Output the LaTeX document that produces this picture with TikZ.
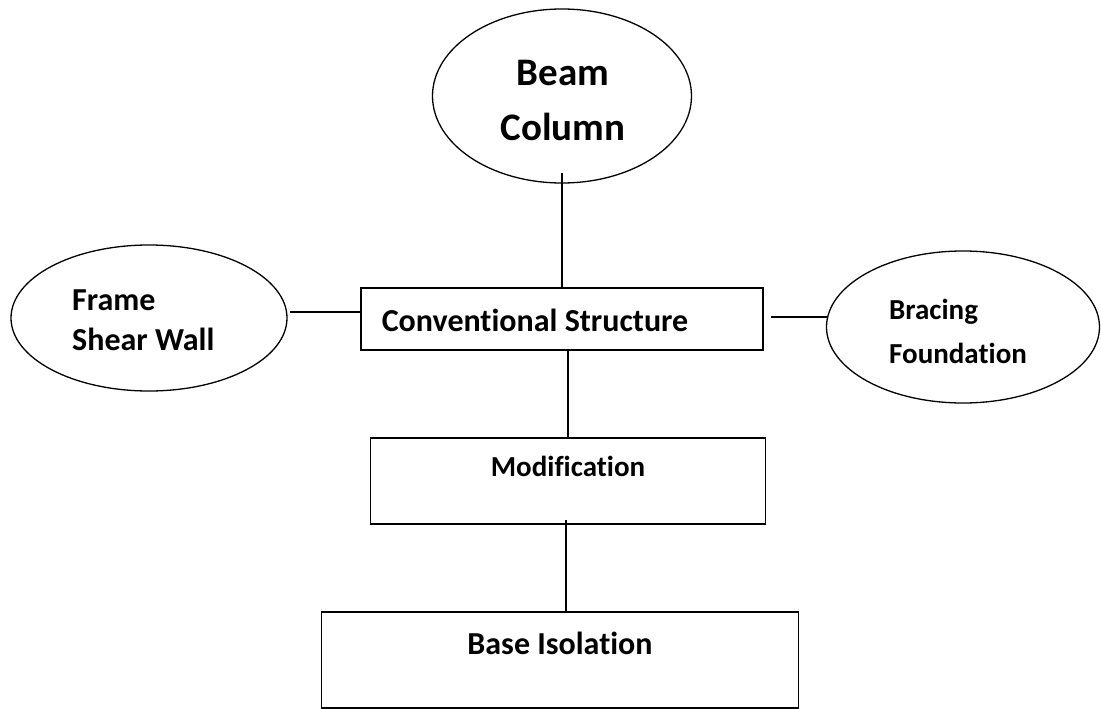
\documentclass[tikz,border=0pt]{standalone}
\usepackage{fontspec}
\setmainfont{Carlito}[Ligatures=NoCommon]
\usetikzlibrary{shapes.geometric}
\tikzstyle{edge}=[line width=1.4pt]
\tikzstyle{bubble}=[ellipse, draw, line width=1.3pt,
                    inner sep=0pt, outer sep=0pt]
\tikzstyle{block}=[rectangle, draw, line width=1.5pt,
                   inner sep=0pt, outer sep=0pt]
\tikzstyle{caption}=[font=\bfseries\fontsize{32}{40}\selectfont,
                     align=left, inner sep=0pt]

\begin{document}
\begin{tikzpicture}[x=1pt,y=-1pt]
    \useasboundingbox (0,0) rectangle (1101,709);
    % shapes
    \node (beam)  at (562,96)  [bubble, minimum width=259pt, minimum height=174pt]{};
    \node (frame) at (149,318) [bubble, minimum width=276pt, minimum height=146pt]{};
    \node (brace) at (963,327) [bubble, minimum width=273pt, minimum height=152pt]{};
    \node (conv)  at (562,319) [block, minimum width=402pt, minimum height=62pt]{};
    \node (mod)   at (568,481) [block, minimum width=395pt, minimum height=86pt]{};
    \node (base)  at (560,660) [block, minimum width=477pt, minimum height=96pt]{};

    % texts
    \node (beam-t)  at (563,100) [caption, align=center,
                                  font=\bfseries\fontsize{39}{55}\selectfont]{Beam\\Column};
    \node (frame-t) at (72,320)  [caption, anchor=west]{Frame\\Shear Wall};
    \node (brace-t) at (889,331) [caption, anchor=west,
                                  font=\bfseries\fontsize{29}{44}\selectfont]{Bracing\\Foundation};
    \node (conv-t)  at (535,320) [caption]{Conventional Structure};
    \node (mod-t)   at (568,466) [caption, font=\bfseries\fontsize{29}{40}\selectfont]{Modification};
    \node (base-t)  at (560,643) [caption]{Base Isolation};

    % connectors
    \draw [edge, shorten <=-10pt] (beam.south) to (conv.north);
    \draw [edge, shorten <=3pt] (frame.east |- 0,312) to (conv.west |- 0,312);
    \draw [edge, shorten <=8pt] (conv.east |- 0,317) to (brace.west |- 0,317);
    \draw [edge] (mod.north |- conv.south) to (mod.north);
    \draw [edge, shorten <=-4pt] (mod.south -| 566,0) to (base.north -| 566,0);
\end{tikzpicture}
\end{document}
